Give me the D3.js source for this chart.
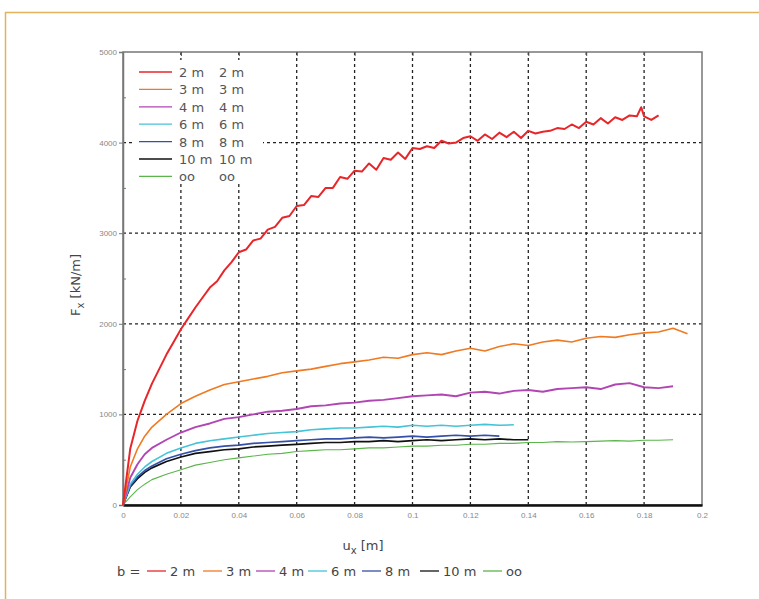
<!DOCTYPE html>
<html><head><meta charset="utf-8">
<script src="https://cdn.jsdelivr.net/npm/d3@7"></script>
<style>body{margin:0;background:#fff;}svg{display:block;font-family:"DejaVu Sans",sans-serif;}</style>
</head><body><svg id="c" width="759" height="599"></svg>
<script>
const xTicks=[0,0.02,0.04,0.06,0.08,0.1,0.12,0.14,0.16,0.18,0.2];
const xTickLabels=["0","0.02","0.04","0.06","0.08","0.1","0.12","0.14","0.16","0.18","0.2"];
const yTicks=[0,1000,2000,3000,4000,5000];
const yTickLabels=["0","1000","2000","3000","4000","5000"];
const seriesNames=["2 m","3 m","4 m","6 m","8 m","10 m","oo"];
const seriesColors=["#e8262a","#f07a22","#b245b4","#45c3d8","#3550a8","#111111","#5ab54a"];

const x2m=[0,0.0025,0.005,0.0075,0.01,0.0125,0.015,0.0175,0.02,0.0225,0.025,0.0275,0.03,0.0325,0.035,0.0375,0.04,0.0425,0.045,0.0475,0.05,0.0525,0.055,0.0575,0.06,0.0625,0.065,0.0675,0.07,0.0725,0.075,0.0775,0.08,0.0825,0.085,0.0875,0.09,0.0925,0.095,0.0975,0.1,0.1025,0.105,0.1075,0.11,0.1125,0.115,0.1175,0.12,0.1225,0.125,0.1275,0.13,0.1325,0.135,0.1375,0.14,0.1425,0.145,0.1475,0.15,0.1525,0.155,0.1575,0.16,0.1625,0.165,0.1675,0.17,0.1725,0.175,0.1775,0.179,0.18,0.1825,0.185];
const y2m=[0,620,930,1150,1340,1500,1660,1800,1940,2060,2180,2290,2400,2470,2590,2680,2790,2820,2920,2940,3040,3070,3170,3190,3300,3310,3410,3400,3500,3500,3620,3600,3690,3680,3770,3700,3830,3810,3890,3820,3940,3930,3960,3940,4020,3990,4000,4050,4070,4020,4090,4040,4110,4060,4120,4050,4130,4100,4120,4130,4160,4150,4200,4160,4230,4200,4270,4210,4280,4250,4300,4290,4390,4290,4250,4300];

const xStd=[0,0.0025,0.005,0.0075,0.01,0.015,0.02,0.025,0.03,0.035,0.04,0.045,0.05,0.055,0.06,0.065,0.07,0.075,0.08,0.085,0.09,0.095,0.1,0.105,0.11,0.115,0.12,0.125,0.13,0.135,0.14,0.145,0.15,0.155,0.16,0.165,0.17,0.175,0.18,0.185,0.19,0.195];
const y3m=[0,420,620,760,860,1000,1120,1200,1270,1330,1360,1390,1420,1460,1480,1500,1530,1560,1580,1600,1630,1620,1660,1680,1660,1700,1730,1700,1750,1780,1760,1800,1820,1800,1840,1860,1850,1880,1900,1910,1950,1890];
const y4m=[0,300,450,560,630,720,800,860,900,950,970,1000,1030,1040,1060,1090,1100,1120,1130,1150,1160,1180,1200,1210,1220,1200,1240,1250,1230,1260,1270,1250,1280,1290,1300,1280,1330,1345,1300,1290,1310];
const y6m=[0,230,340,420,480,570,630,680,710,730,750,770,790,800,810,830,840,850,850,860,870,860,880,870,880,870,880,890,880,885];
const y8m=[0,210,310,380,430,510,560,600,630,650,660,680,690,700,710,720,730,730,740,750,740,750,760,750,760,770,760,770,760];
const y10m=[0,200,290,360,410,480,530,570,590,610,620,640,650,660,670,680,690,690,700,700,710,700,710,720,710,720,730,720,730,720,720];
const yoo=[0,90,170,230,280,340,390,440,470,500,520,540,560,570,590,600,610,610,620,630,630,640,650,650,660,660,670,670,680,680,690,690,700,695,700,705,710,705,715,715,720];

const svg=d3.select("#c");
svg.append("line").attr("x1",5).attr("x2",759).attr("y1",12.5).attr("y2",12.5).attr("stroke","#e2b25c").attr("stroke-width",1.5);
svg.append("line").attr("x1",5.5).attr("x2",5.5).attr("y1",12).attr("y2",599).attr("stroke","#e2b25c").attr("stroke-width",1.5);

const L=123,R=702,T=52,B=505;
const x=d3.scaleLinear().domain([0,0.2]).range([L,R]);
const y=d3.scaleLinear().domain([0,5000]).range([B,T]);

const g=svg.append("g");
g.selectAll(".vg").data(xTicks.slice(1,-1)).join("line")
 .attr("x1",d=>x(d)).attr("x2",d=>x(d)).attr("y1",T).attr("y2",B)
 .attr("stroke","#222").attr("stroke-width",1.3).attr("stroke-dasharray","3,3");
g.selectAll(".hg").data(yTicks.slice(1,-1)).join("line")
 .attr("x1",L).attr("x2",R).attr("y1",d=>y(d)).attr("y2",d=>y(d))
 .attr("stroke","#222").attr("stroke-width",1.3).attr("stroke-dasharray","3,3");

svg.append("rect").attr("x",L).attr("y",T).attr("width",R-L).attr("height",B-T).attr("fill","none").attr("stroke","#777").attr("stroke-width",1.5);

const xAx=svg.append("g").attr("transform",`translate(0,${B})`)
 .call(d3.axisBottom(x).tickValues(xTicks).tickFormat((d,i)=>xTickLabels[i]).tickSize(0).tickPadding(7));
xAx.select(".domain").attr("stroke","#111").attr("stroke-width",2.5);
xAx.selectAll("text").attr("font-size",8).attr("fill","#888");
const yAx=svg.append("g").attr("transform",`translate(${L},0)`)
 .call(d3.axisLeft(y).tickValues(yTicks).tickFormat((d,i)=>yTickLabels[i]).tickSize(4).tickPadding(2));
yAx.select(".domain").attr("stroke","#777").attr("stroke-width",1.5);
yAx.selectAll("line").attr("stroke","#777");
yAx.selectAll("text").attr("font-size",8).attr("fill","#888");
svg.append("g").attr("transform",`translate(0,${T})`)
 .call(d3.axisBottom(x).tickValues(xTicks.slice(1,-1)).tickSize(4).tickFormat(""))
 .call(s=>s.select(".domain").remove()).selectAll("line").attr("stroke","#555");
svg.append("g").attr("transform",`translate(${L},0)`)
 .call(d3.axisRight(y).tickValues([500,1500,2500,3500,4500]).tickSize(3).tickFormat(""))
 .call(s=>s.select(".domain").remove()).selectAll("line").attr("stroke","#777");

const series=[
 {xs:x2m,ys:y2m},{xs:xStd,ys:y3m},{xs:xStd,ys:y4m},{xs:xStd,ys:y6m},{xs:xStd,ys:y8m},{xs:xStd,ys:y10m},{xs:xStd,ys:yoo}
];
const line=d3.line().x(d=>x(d[0])).y(d=>y(d[1]));
const widths=[2,1.6,1.9,1.6,1.7,1.7,1.1];
series.map((s,i)=>({i,pts:s.ys.map((v,k)=>[s.xs[k],v])})).reverse().forEach(s=>{
 svg.append("path").attr("d",line(s.pts)).attr("fill","none").attr("stroke",seriesColors[s.i]).attr("stroke-width",widths[s.i]).attr("stroke-linejoin","round");
});

const lg=svg.append("g");
lg.append("rect").attr("x",133).attr("y",60).attr("width",130).attr("height",124).attr("fill","#fff");
seriesNames.forEach((n,i)=>{
 const yy=72+i*17.4;
 lg.append("line").attr("x1",139).attr("x2",172).attr("y1",yy).attr("y2",yy).attr("stroke",seriesColors[i]).attr("stroke-width",1.3);
 lg.append("text").attr("x",179).attr("y",yy+5).attr("font-size",13).attr("fill","#555").text(n);
 lg.append("text").attr("x",219).attr("y",yy+5).attr("font-size",13).attr("fill","#555").text(n);
});

const xt=svg.append("text").attr("x",363).attr("y",550).attr("text-anchor","middle").attr("font-size",13).attr("fill","#444");
xt.append("tspan").text("u");
xt.append("tspan").attr("dy",4).attr("font-size",10).text("x");
xt.append("tspan").attr("dy",-4).text(" [m]");
const yt=svg.append("text").attr("transform","translate(80,285) rotate(-90)").attr("text-anchor","middle").attr("font-size",13).attr("fill","#444");
yt.append("tspan").text("F");
yt.append("tspan").attr("dy",4).attr("font-size",10).text("x");
yt.append("tspan").attr("dy",-4).text(" [kN/m]");

svg.append("text").attr("x",117).attr("y",576).attr("font-size",13).attr("fill","#444").text("b =");
const bx=[147,203,256,308,362,420,483];
seriesNames.forEach((n,i)=>{
 svg.append("line").attr("x1",bx[i]).attr("x2",bx[i]+19).attr("y1",571).attr("y2",571).attr("stroke",seriesColors[i]).attr("stroke-width",1.3);
 svg.append("text").attr("x",bx[i]+23).attr("y",576).attr("font-size",13).attr("fill","#444").text(n);
});
</script></body></html>
